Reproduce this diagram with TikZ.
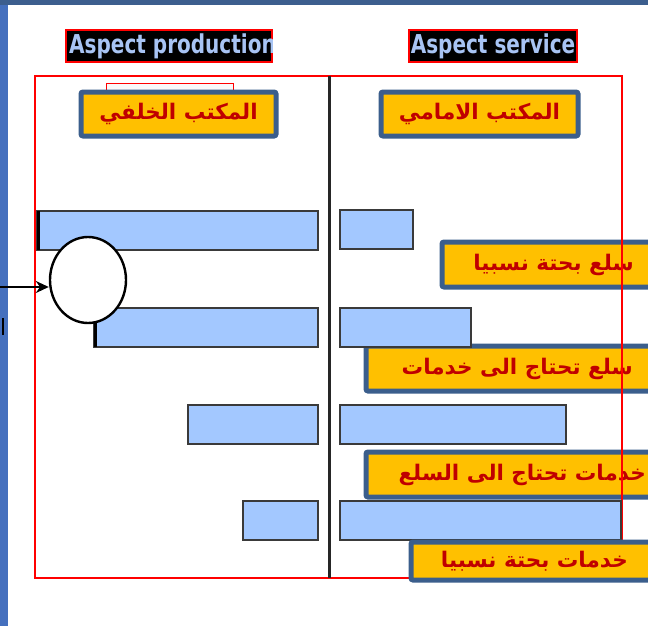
\documentclass[tikz,border=0pt]{standalone}
\usepackage{fontspec}
\setmainfont{DejaVu Sans}
\newfontfamily\arabicfont[Script=Arabic]{DejaVu Sans}
\TeXXeTstate=1
\usetikzlibrary{shapes.geometric,arrows.meta}
\definecolor{boxfill}{HTML}{FFC000}
\definecolor{boxline}{HTML}{3B5E8C}
\definecolor{arred}{HTML}{C00000}
\definecolor{barfill}{HTML}{A3C8FF}
\definecolor{barline}{HTML}{3A3A3A}
\definecolor{asptext}{HTML}{A8C4F4}
\definecolor{topbar}{HTML}{3C5E8E}
\definecolor{sidebar}{HTML}{4570BE}
\newcommand{\narrow}[1]{\scalebox{0.77}[1]{#1}}
\tikzset{
  obox/.style={draw=boxline, line width=5, fill=boxfill, rounded corners=2, inner sep=0},
  artext/.style={font=\arabicfont\bfseries\fontsize{21.5}{24}\selectfont, text=arred, inner sep=0},
  aspbox/.style={draw=red, line width=1.2, fill=black, inner sep=0},
  asptxt/.style={font=\bfseries\fontsize{26}{28}\selectfont, text=asptext, inner sep=0},
  bar/.style={draw=barline, line width=1.4, fill=barfill}
}
\begin{document}
\begin{tikzpicture}[x=1pt,y=-1pt]
\useasboundingbox (0,0) rectangle (648,626);
\fill[white] (0,0) rectangle (648,626);
\fill[sidebar] (0,0) rectangle (8,626);
\fill[topbar] (0,0) rectangle (648,5);
\draw[line width=1.5] (3,318) -- (3,335);

\node[aspbox, minimum width=206, minimum height=32] (prod) at (169,46) {};
\begin{scope}
\clip (prod.south west) rectangle (prod.north east);
\node[asptxt, anchor=west] (prodtxt) at (69,46) {\narrow{Aspect production}};
\end{scope}
\node[aspbox, minimum width=168, minimum height=32] (serv) at (493,46) {};
\node[asptxt] (servtxt) at (serv) {\narrow{Aspect service}};

\node[obox, minimum width=218, minimum height=45] (pure goods) at (551,264.5) {};
\node[artext, anchor=east] at (634,265) {\beginR سلع بحتة نسبيا\endR};
\node[obox, minimum width=294, minimum height=45] (goods serv) at (513,368.5) {};
\node[artext, anchor=east] at (633,369) {\beginR سلع تحتاج الى خدمات\endR};
\node[obox, minimum width=294, minimum height=45] (serv goods) at (513,474.5) {};
\node[artext, anchor=east] at (646,475) {\beginR خدمات تحتاج الى السلع\endR};

\draw[red, line width=1.2] (35,76) rectangle (622,578);
\draw[line width=3, black!85] (329,76) -- (329,578);
\draw[red, line width=1, fill=white!95!gray] (106,84) rectangle (233,93);

\node[obox, minimum width=195, minimum height=44] (back) at (178.5,114) {};
\node[artext] at (back) {\beginR المكتب الخلفي\endR};
\node[obox, minimum width=197, minimum height=44] (front) at (479.5,114) {};
\node[artext] at (front) {\beginR المكتب الامامي\endR};

\foreach \xa/\ya in {37/211, 94/308, 188/405, 243/501}
  \draw[bar] (\xa,\ya) rectangle (318,\ya+39);
\draw[line width=3] (38,211) -- (38,250);
\draw[line width=3] (95,308) -- (95,347);
\foreach \xb/\ya in {413/210, 471/308, 566/405, 621/501}
  \draw[bar] (340,\ya) rectangle (\xb,\ya+39);

\node[obox, minimum width=249, minimum height=38] (pure serv) at (535.5,561) {};
\node[artext, anchor=east] at (628,561) {\beginR خدمات بحتة نسبيا\endR};

\node[ellipse, draw, line width=2.4, fill=white, minimum width=76, minimum height=86, inner sep=0] (ball) at (88,280) {};
\coordinate (src) at (0,287);
\draw[-{Stealth[length=13,width=12]}, line width=2.6] (src) -- (src -| ball.west);
\end{tikzpicture}
\end{document}
